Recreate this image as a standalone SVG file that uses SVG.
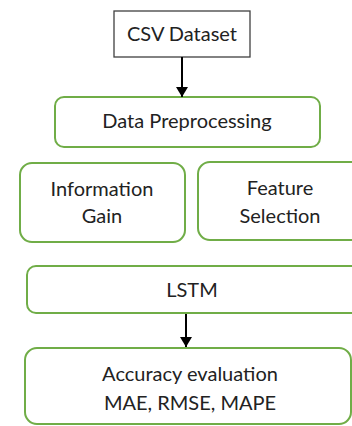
<svg xmlns="http://www.w3.org/2000/svg" width="352" height="426" viewBox="0 0 352 426">
<style>
.g{fill:#fff;stroke:#70ad47;stroke-width:2}
.b{fill:#fff;stroke:#404040;stroke-width:1.3}
text{font-family:Lato,"Open Sans","Liberation Sans",sans-serif;font-size:20px;fill:#222;text-anchor:middle}
.c{stroke:#000;stroke-width:2;fill:none}
</style>
<defs>
<marker id="ah" viewBox="0 0 10 12" refX="10" refY="6" markerWidth="10" markerHeight="12" markerUnits="userSpaceOnUse" orient="auto">
<path d="M0,0 L10,6 L0,12 Z" fill="#000"/>
</marker>
</defs>
<g id="csv"><rect class="b" x="114" y="11" width="136" height="46"/><text x="182" y="41">CSV Dataset</text></g>
<g id="prep"><rect class="g" x="55" y="97" width="265" height="50" rx="9"/><text x="187" y="128">Data Preprocessing</text></g>
<g id="infogain"><rect class="g" x="20" y="163" width="165" height="79" rx="12"/><text x="102" y="196">Information</text><text x="102" y="223">Gain</text></g>
<g id="featsel"><rect class="g" x="198" y="162" width="170" height="78" rx="12"/><text x="280" y="195">Feature</text><text x="280" y="223">Selection</text></g>
<g id="lstm"><rect class="g" x="27" y="266" width="340" height="47" rx="9"/><text x="192" y="297">LSTM</text></g>
<g id="acc"><rect class="g" x="25" y="348" width="326" height="76" rx="12"/><text x="190" y="381">Accuracy evaluation</text><text x="190" y="410">MAE, RMSE, MAPE</text></g>
<g id="connectors">
<line class="c" x1="182" y1="57" x2="182" y2="97" marker-end="url(#ah)"/>
<line class="c" x1="186" y1="314" x2="186" y2="347" marker-end="url(#ah)"/>
</g>
</svg>
